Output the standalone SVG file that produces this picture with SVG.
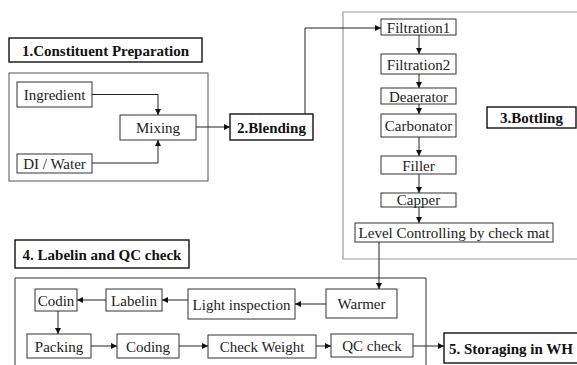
<svg xmlns="http://www.w3.org/2000/svg" width="577" height="365" viewBox="0 0 577 365">
<style>
.b{fill:#fff;stroke:#333;stroke-width:1}
.t{font-family:'Liberation Serif','Times New Roman',serif;font-size:15px;fill:#222;text-anchor:middle}
.h{font-family:'Liberation Serif','Times New Roman',serif;font-size:15px;font-weight:bold;fill:#111;text-anchor:middle}
.hb{fill:#fff;stroke:#111;stroke-width:1.4}
.c{fill:none;stroke:#222;stroke-width:1}
</style>
<defs>
<marker id="a" viewBox="0 0 8 8" refX="8" refY="4" markerWidth="6" markerHeight="6" orient="auto" markerUnits="userSpaceOnUse"><path d="M0,0L8,4L0,8z" fill="#111"/></marker>
</defs>
<rect width="577" height="365" fill="#fff"/>
<g id="group1"><rect x="9" y="73" width="199" height="108" fill="none" stroke="#555" stroke-width="1"/></g>
<g id="group3"><path d="M577,12H343V259H577" fill="none" stroke="#999" stroke-width="1.2"/></g>
<g id="group4"><path d="M15,370V278H426V370" fill="none" stroke="#333" stroke-width="1"/></g>

<g id="title1"><rect class="hb" x="9" y="38" width="193" height="24"/><text class="h" x="105.5" y="55.5">1.Constituent Preparation</text></g>
<g id="ingredient"><rect class="b" x="17" y="82" width="75" height="25"/><text class="t" x="54.5" y="99.5">Ingredient</text></g>
<g id="mixing"><rect class="b" x="120" y="115" width="76" height="25"/><text class="t" x="158" y="132.5">Mixing</text></g>
<g id="diwater"><rect class="b" x="17" y="154" width="75" height="19"/><text class="t" x="54.5" y="168.5">DI / Water</text></g>
<g id="blending"><rect class="hb" x="230" y="114" width="83" height="26"/><text class="h" x="271.5" y="132.5">2.Blending</text></g>

<g id="filtration1"><rect class="b" x="381" y="19" width="75" height="16"/><text class="t" x="418.5" y="32.5">Filtration1</text></g>
<g id="filtration2"><rect class="b" x="381" y="54" width="75" height="20"/><text class="t" x="418.5" y="69.5">Filtration2</text></g>
<g id="deaerator"><rect class="b" x="381" y="88" width="75" height="16"/><text class="t" x="418.5" y="101.5">Deaerator</text></g>
<g id="carbonator"><rect class="b" x="381" y="114" width="75" height="23"/><text class="t" x="418.5" y="131">Carbonator</text></g>
<g id="filler"><rect class="b" x="381" y="156" width="75" height="18"/><text class="t" x="418.5" y="170.5">Filler</text></g>
<g id="capper"><rect class="b" x="381" y="193" width="75" height="14"/><text class="t" x="418.5" y="205">Capper</text></g>
<g id="level"><rect class="b" x="355" y="223" width="198" height="19"/><text class="t" x="454" y="238">Level Controlling by check mat</text></g>
<g id="title3"><rect class="hb" x="487" y="107" width="89" height="21"/><text class="h" x="531.5" y="123">3.Bottling</text></g>

<g id="title4"><rect class="hb" x="15" y="240" width="174" height="28"/><text class="h" x="102" y="259.5">4. Labelin and QC check</text></g>
<g id="warmer"><rect class="b" x="326" y="289" width="71" height="29"/><text class="t" x="361.5" y="309">Warmer</text></g>
<g id="light"><rect class="b" x="188" y="289" width="107" height="30"/><text class="t" x="241.5" y="309.5">Light inspection</text></g>
<g id="labelin"><rect class="b" x="106" y="289" width="56" height="22"/><text class="t" x="134" y="305.5">Labelin</text></g>
<g id="codin"><rect class="b" x="35" y="289" width="42" height="22"/><text class="t" x="56" y="305.5">Codin</text></g>
<g id="packing"><rect class="b" x="27" y="334" width="64" height="24"/><text class="t" x="59" y="351.5">Packing</text></g>
<g id="coding"><rect class="b" x="117" y="334" width="62" height="24"/><text class="t" x="148" y="351.5">Coding</text></g>
<g id="checkweight"><rect class="b" x="208" y="335" width="108" height="23"/><text class="t" x="262" y="352">Check Weight</text></g>
<g id="qccheck"><rect class="b" x="331" y="334" width="82" height="23"/><text class="t" x="372" y="351">QC check</text></g>
<g id="storaging"><rect class="hb" x="444" y="333" width="140" height="30"/><text class="h" x="449" y="353.5" style="text-anchor:start">5. Storaging in WH</text></g>

<g id="connectors">
<path class="c" d="M92,94.5H158V115" marker-end="url(#a)"/>
<path class="c" d="M92,163H158V140" marker-end="url(#a)"/>
<path class="c" d="M196,127H230" marker-end="url(#a)"/>
<path class="c" d="M305,114V28H381" marker-end="url(#a)"/>
<path class="c" d="M419,35V54" marker-end="url(#a)"/>
<path class="c" d="M419,74V88" marker-end="url(#a)"/>
<path class="c" d="M419,104V114" marker-end="url(#a)"/>
<path class="c" d="M419,137V156" marker-end="url(#a)"/>
<path class="c" d="M419,174V193" marker-end="url(#a)"/>
<path class="c" d="M419,207V223" marker-end="url(#a)"/>
<path class="c" d="M379,242V289" marker-end="url(#a)"/>
<path class="c" d="M326,304H295" marker-end="url(#a)"/>
<path class="c" d="M188,300H162" marker-end="url(#a)"/>
<path class="c" d="M106,300H77" marker-end="url(#a)"/>
<path class="c" d="M58,311V334" marker-end="url(#a)"/>
<path class="c" d="M91,346H117" marker-end="url(#a)"/>
<path class="c" d="M179,346H208" marker-end="url(#a)"/>
<path class="c" d="M316,346H331" marker-end="url(#a)"/>
<path class="c" d="M413,346H444" marker-end="url(#a)"/>
</g>
</svg>
